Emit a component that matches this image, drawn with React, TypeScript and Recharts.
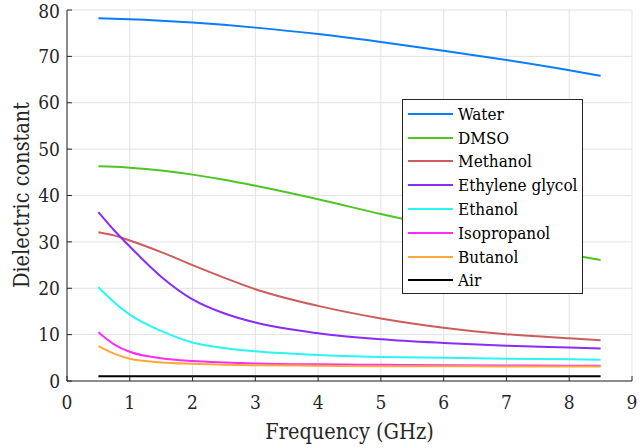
import { LineChart, Line, XAxis, YAxis, CartesianGrid } from 'recharts'

// frequency samples (GHz)
const freqs = [0.5, 0.75, 1, 1.5, 2, 2.5, 3, 4, 5, 6, 7, 8, 8.5]

const water = [78.2, 78.1, 78.0, 77.7, 77.3, 76.8, 76.2, 74.8, 73.1, 71.2, 69.2, 67.0, 65.8]
const dmso = [46.3, 46.2, 46.0, 45.4, 44.5, 43.4, 42.1, 39.2, 36.0, 33.0, 30.0, 27.3, 26.1]
const methanol = [32.1, 31.4, 30.3, 27.8, 25.0, 22.3, 19.8, 16.2, 13.5, 11.5, 10.1, 9.2, 8.8]
const ethyleneGlycol = [36.4, 32.5, 29.0, 22.5, 17.6, 14.6, 12.6, 10.3, 9.0, 8.2, 7.6, 7.2, 7.0]
const ethanol = [20.2, 17.0, 14.3, 10.8, 8.3, 7.1, 6.4, 5.6, 5.2, 5.0, 4.8, 4.7, 4.6]
const isopropanol = [10.5, 7.9, 6.3, 4.9, 4.3, 4.0, 3.8, 3.6, 3.5, 3.4, 3.35, 3.3, 3.3]
const butanol = [7.5, 5.9, 4.8, 4.0, 3.7, 3.5, 3.4, 3.3, 3.2, 3.2, 3.15, 3.1, 3.1]
const air = [1, 1, 1, 1, 1, 1, 1, 1, 1, 1, 1, 1, 1]

const xTicks = [0, 1, 2, 3, 4, 5, 6, 7, 8, 9]
const yTicks = [0, 10, 20, 30, 40, 50, 60, 70, 80]

const series = [
  { key: 'water', name: 'Water', color: '#0a7dff', values: water },
  { key: 'dmso', name: 'DMSO', color: '#4ec522', values: dmso },
  { key: 'methanol', name: 'Methanol', color: '#cd5c5c', values: methanol },
  { key: 'eg', name: 'Ethylene glycol', color: '#8a2cf5', values: ethyleneGlycol },
  { key: 'ethanol', name: 'Ethanol', color: '#2af5f5', values: ethanol },
  { key: 'isopropanol', name: 'Isopropanol', color: '#fa2cf5', values: isopropanol },
  { key: 'butanol', name: 'Butanol', color: '#ffa83a', values: butanol },
  { key: 'air', name: 'Air', color: '#000000', values: air },
]

const rows = freqs.map((f, i) => {
  const r: Record<string, number> = { f }
  series.forEach(s => { r[s.key] = s.values[i] })
  return r
})

// Liberation Serif doesn't resolve here, DejaVu Serif does
const font = "'DejaVu Serif Condensed', 'DejaVu Serif'"
const ink = '#262626'

const YLabel = () => (
  <text x={21} y={195} transform="rotate(-90 21 195)" textAnchor="middle" dominantBaseline="central"
        style={{ fontFamily: font, fontStretch: 'condensed', fontSize: 21.5, fill: ink }}>Dielectric constant</text>
)

export default function App() {
  return (
    <div style={{ position: 'absolute', left: 0, top: 0, width: 642, height: 448, background: '#fff' }}>
      <LineChart width={642} height={448} data={rows} margin={{ top: 10, right: 10, bottom: 0, left: 0 }}>
        <CartesianGrid stroke="#e2e2e2" />
        <XAxis type="number" dataKey="f" domain={[0, 9]} ticks={xTicks} height={67}
               stroke={ink} tickSize={-5} tickMargin={20}
               tick={{ fontSize: 19, fontFamily: font, fill: ink }}
               label={{ value: 'Frequency (GHz)', position: 'insideBottom', offset: 9,
                        style: { fontSize: 21.5, fontFamily: font, fontStretch: 'condensed', fill: ink } }} />
        <YAxis type="number" domain={[0, 80]} ticks={yTicks} width={67}
               stroke={ink} tickSize={-5} tickMargin={12}
               tick={{ fontSize: 19, fontFamily: font, fill: ink }}
               label={{ content: () => <YLabel /> }} />
        {series.map(s => (
          <Line key={s.key} type="monotone" dataKey={s.key} stroke={s.color} strokeWidth={2}
                dot={false} activeDot={false} isAnimationActive={false} />
        ))}
      </LineChart>

      {/* Legend box */}
      <div style={{ position: 'absolute', left: 402, top: 99, width: 179, height: 191,
                    border: `1px solid ${ink}`, background: '#fff', fontFamily: font, fontStretch: 'condensed',
                    fontSize: 17, color: '#000', paddingTop: 2, boxSizing: 'content-box', whiteSpace: 'nowrap' }}>
        {series.map(s => (
          <div key={s.key} style={{ display: 'flex', alignItems: 'center', height: 23.8 }}>
            <span style={{ display: 'inline-block', width: 45, height: 2, marginLeft: 5, marginRight: 5,
                           background: s.color, flexShrink: 0 }} />
            <span>{s.name}</span>
          </div>
        ))}
      </div>
    </div>
  )
}
